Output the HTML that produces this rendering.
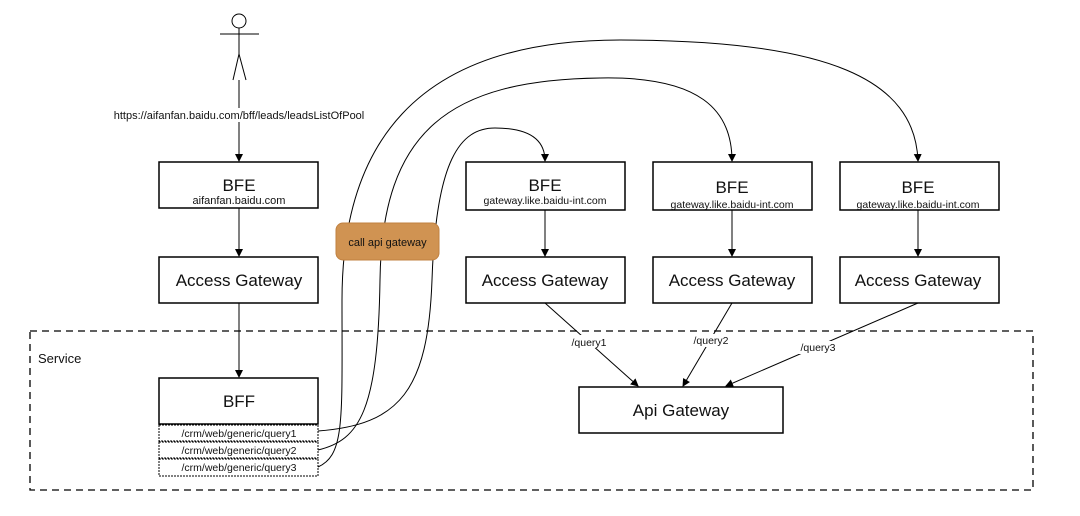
<!DOCTYPE html>
<html><head><style>
body{margin:0;background:#fff;}
svg text{font-family:"Liberation Sans",sans-serif;fill:#111;}
</style></head><body>
<svg width="1080" height="511" viewBox="0 0 1080 511" xmlns="http://www.w3.org/2000/svg">
<defs><marker id="a" markerWidth="8" markerHeight="8" refX="7" refY="4" orient="auto" markerUnits="userSpaceOnUse"><path d="M0,0 L8,4 L0,8 z" fill="#000"/></marker></defs>
<g stroke="#000" fill="none" stroke-width="1">
<circle cx="239" cy="21" r="7"/>
<line x1="220" y1="34" x2="259" y2="34"/>
<line x1="239" y1="28" x2="239" y2="54"/>
<line x1="239" y1="54" x2="233" y2="80"/>
<line x1="239" y1="54" x2="246" y2="80"/>
<line x1="239" y1="80" x2="239" y2="161" marker-end="url(#a)"/>
<rect x="159" y="162" width="159" height="46" stroke-width="1.5"/>
<line x1="239" y1="208" x2="239" y2="256" marker-end="url(#a)"/>
<rect x="159" y="257" width="159" height="46" stroke-width="1.5"/>
<line x1="239" y1="303" x2="239" y2="377" marker-end="url(#a)"/>
<rect x="159" y="378" width="159" height="46" stroke-width="1.5"/>
<rect x="159" y="425" width="159" height="16" stroke-dasharray="2,1"/>
<rect x="159" y="442" width="159" height="16" stroke-dasharray="2,1"/>
<rect x="159" y="459" width="159" height="17" stroke-dasharray="2,1"/>
<rect x="30" y="331" width="1003" height="159" stroke-dasharray="7,5" stroke-width="1.3"/>
<rect x="466" y="162" width="159" height="48" stroke-width="1.5"/>
<rect x="653" y="162" width="159" height="48" stroke-width="1.5"/>
<rect x="840" y="162" width="159" height="48" stroke-width="1.5"/>
<line x1="545" y1="210" x2="545" y2="256" marker-end="url(#a)"/>
<line x1="732" y1="210" x2="732" y2="256" marker-end="url(#a)"/>
<line x1="918" y1="210" x2="918" y2="256" marker-end="url(#a)"/>
<rect x="466" y="257" width="159" height="46" stroke-width="1.5"/>
<rect x="653" y="257" width="159" height="46" stroke-width="1.5"/>
<rect x="840" y="257" width="159" height="46" stroke-width="1.5"/>
<rect x="579" y="387" width="204" height="46" stroke-width="1.5"/>
<line x1="545" y1="303" x2="638" y2="386" marker-end="url(#a)"/>
<line x1="732" y1="303" x2="683" y2="386" marker-end="url(#a)"/>
<line x1="918" y1="303" x2="726" y2="386" marker-end="url(#a)"/>
<path d="M318,431 C400,425 428,390 432,280 C436,160 460,128 495,128 C530,128 545,140 545,161" marker-end="url(#a)"/>
<path d="M318,450 C360,440 378,410 380,280 C382,130 450,80 600,78 C700,76 732,110 732,161" marker-end="url(#a)"/>
<path d="M318,467 C345,455 342,420 342,300 C342,150 410,40 620,40 C830,40 915,80 918,161" marker-end="url(#a)"/>
</g>
<rect x="336" y="223" width="103" height="37" rx="7" fill="#d09352" stroke="#c08040"/>
<text x="387.5" y="246" font-size="11" text-anchor="middle">call api gateway</text>
<rect x="110" y="108" width="258" height="14" fill="#fff"/>
<text x="239" y="119" font-size="11" text-anchor="middle">https://aifanfan.baidu.com/bff/leads/leadsListOfPool</text>
<text x="239" y="191" font-size="17" text-anchor="middle">BFE</text>
<text x="239" y="204" font-size="11" text-anchor="middle">aifanfan.baidu.com</text>
<text x="239" y="286" font-size="17" text-anchor="middle">Access Gateway</text>
<text x="239" y="407" font-size="17" text-anchor="middle">BFF</text>
<text x="239" y="437" font-size="10.5" text-anchor="middle">/crm/web/generic/query1</text>
<text x="239" y="454" font-size="10.5" text-anchor="middle">/crm/web/generic/query2</text>
<text x="239" y="471" font-size="10.5" text-anchor="middle">/crm/web/generic/query3</text>
<text x="38" y="363" font-size="13">Service</text>
<text x="545" y="191" font-size="17" text-anchor="middle">BFE</text>
<text x="545" y="204" font-size="10.5" text-anchor="middle">gateway.like.baidu-int.com</text>
<text x="732" y="193" font-size="17" text-anchor="middle">BFE</text>
<text x="732" y="208" font-size="10.5" text-anchor="middle">gateway.like.baidu-int.com</text>
<text x="918" y="193" font-size="17" text-anchor="middle">BFE</text>
<text x="918" y="208" font-size="10.5" text-anchor="middle">gateway.like.baidu-int.com</text>
<text x="545" y="286" font-size="17" text-anchor="middle">Access Gateway</text>
<text x="732" y="286" font-size="17" text-anchor="middle">Access Gateway</text>
<text x="918" y="286" font-size="17" text-anchor="middle">Access Gateway</text>
<text x="681" y="416" font-size="17" text-anchor="middle">Api Gateway</text>
<rect x="568" y="335" width="40" height="13" fill="#fff"/>
<text x="589" y="346" font-size="10.5" text-anchor="middle">/query1</text>
<rect x="690" y="334" width="40" height="13" fill="#fff"/>
<text x="711" y="344" font-size="10.5" text-anchor="middle">/query2</text>
<rect x="797" y="341" width="40" height="13" fill="#fff"/>
<text x="818" y="351" font-size="10.5" text-anchor="middle">/query3</text>
</svg>
</body></html>
